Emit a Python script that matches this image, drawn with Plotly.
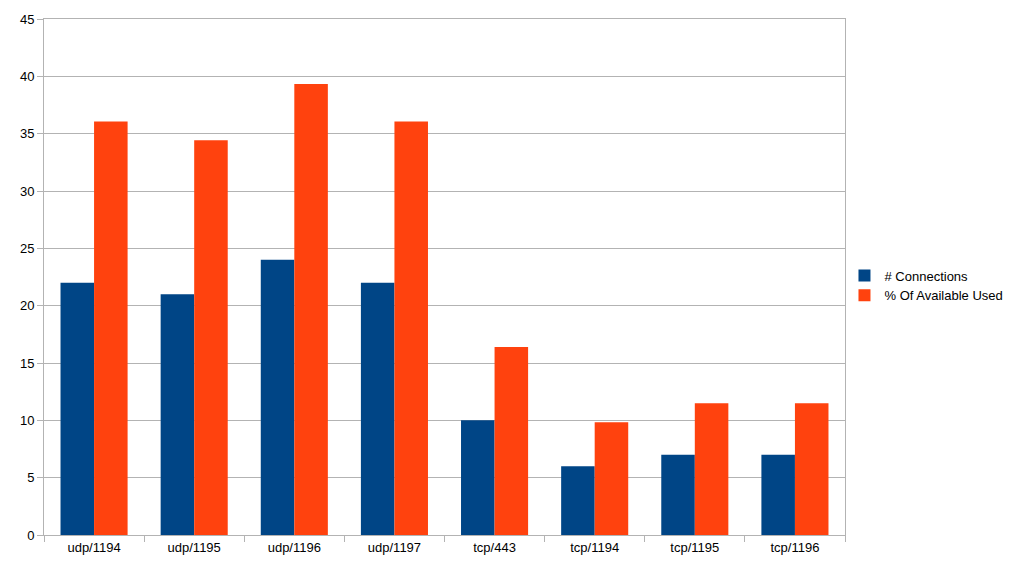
import plotly.graph_objects as go

categories = ["udp/1194", "udp/1195", "udp/1196", "udp/1197", "tcp/443", "tcp/1194", "tcp/1195", "tcp/1196"]
connections = [22, 21, 24, 22, 10, 6, 7, 7]
pct_used = [36.07, 34.43, 39.34, 36.07, 16.39, 9.84, 11.48, 11.48]
y_ticks = [0, 5, 10, 15, 20, 25, 30, 35, 40, 45]

fig = go.Figure()
fig.add_trace(go.Bar(x=categories, y=connections, name="# Connections", marker_color="#004586", marker_line_width=0))
fig.add_trace(go.Bar(x=categories, y=pct_used, name="% Of Available Used", marker_color="#ff420e", marker_line_width=0))

axis_col = "#b3b3b3"
fig.update_layout(
    width=1015, height=571,
    margin=dict(l=44, r=170, t=19, b=36, autoexpand=False),
    paper_bgcolor="white", plot_bgcolor="white",
    barmode="group", bargap=0.33, bargroupgap=0,
    font=dict(family="Liberation Sans, Arial, sans-serif", size=13, color="#000000"),
    legend=dict(xref="container", yref="container", x=0.832, y=0.5, xanchor="left", yanchor="middle",
                font=dict(size=13), itemwidth=30, tracegroupgap=0, bgcolor="rgba(0,0,0,0)"),
    showlegend=True,
)
fig.update_xaxes(showline=True, linecolor=axis_col, linewidth=1, mirror=True,
                 ticks="outside", tickson="boundaries", ticklen=6, tickcolor=axis_col,
                 showgrid=False, tickfont=dict(size=13))
fig.update_yaxes(range=[0, 45], tickvals=y_ticks, showline=True, linecolor=axis_col, linewidth=1, mirror=True,
                 ticks="outside", ticklen=6, tickcolor=axis_col,
                 showgrid=True, gridcolor=axis_col, gridwidth=1, zeroline=False, tickfont=dict(size=13))

fig.write_html("out.html")
